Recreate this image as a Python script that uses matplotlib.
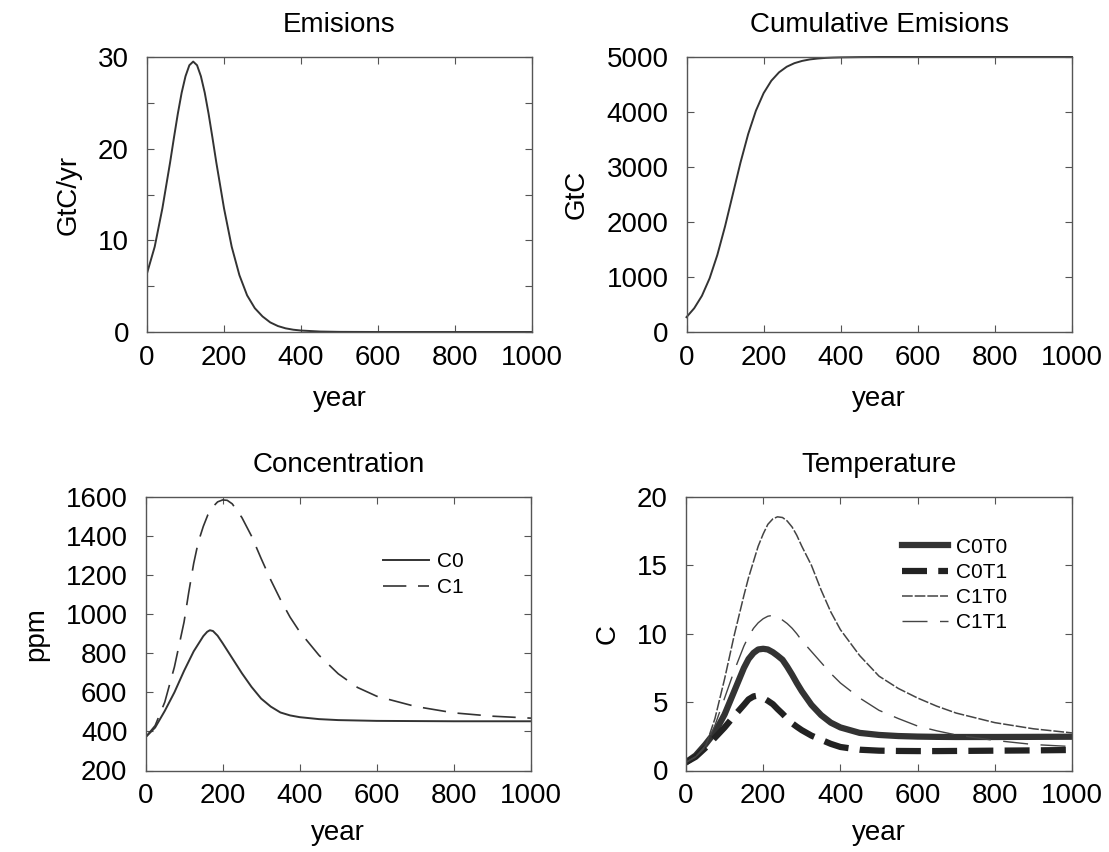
import matplotlib
matplotlib.use('Agg')
import matplotlib.pyplot as plt

plt.rcParams['font.family'] = ['Liberation Sans', 'DejaVu Sans']

# Emissions (GtC/yr) and cumulative emissions (GtC)
em_year = [0, 20, 40, 60, 70, 80, 90, 100, 110, 120, 130, 140, 150, 160, 170, 180,
           200, 220, 240, 260, 280, 300, 320, 340, 360, 380, 400, 450, 500, 600, 800, 1000]
emis = [6.4, 9.3, 13.5, 18.5, 21.2, 23.8, 26.1, 27.9, 29.1, 29.5, 29.1, 27.9, 26.1, 23.8, 21.2, 18.5,
        13.5, 9.3, 6.2, 4.0, 2.6, 1.7, 1.05, 0.65, 0.4, 0.25, 0.16, 0.05, 0.015, 0, 0, 0]

cum_year = [0, 20, 40, 60, 80, 100, 120, 140, 160, 180, 200, 220, 240, 260, 280, 300,
            320, 340, 360, 380, 400, 450, 500, 1000]
cum = [270, 432, 658, 977, 1401, 1921, 2500, 3079, 3599, 4023, 4342, 4568, 4721, 4823, 4888, 4929,
       4956, 4972, 4983, 4989, 4993, 4998, 5000, 5000]

# Concentration (ppm)
c0_year = [0, 25, 50, 75, 100, 125, 150, 160, 167, 175, 187, 200, 225, 250, 275, 300, 325, 350,
           375, 400, 450, 500, 600, 700, 800, 1000]
c0 = [370, 420, 505, 600, 710, 810, 888, 910, 918, 914, 890, 852, 775, 698, 628, 568, 527, 497,
      482, 473, 463, 458, 454, 453, 452, 452]
c1_year = [0, 25, 50, 75, 100, 112, 125, 137, 150, 162, 175, 187, 200, 212, 225, 250, 275, 300,
           325, 350, 375, 400, 450, 500, 550, 600, 700, 800, 900, 1000]
c1 = [370, 430, 550, 730, 960, 1110, 1260, 1370, 1450, 1510, 1550, 1575, 1585, 1583, 1565, 1495,
      1400, 1285, 1175, 1075, 985, 910, 790, 695, 625, 580, 528, 495, 478, 468]

# Temperature (C)
t_year = [0, 25, 50, 75, 100, 125, 150, 162, 175, 187, 200, 212, 225, 237, 250, 262, 275, 287,
          300, 325, 350, 375, 400, 450, 500, 550, 600, 650, 700, 800, 900, 1000]
c0t0 = [0.6, 1.1, 1.9, 2.8, 4.1, 5.8, 7.5, 8.15, 8.6, 8.85, 8.9, 8.85, 8.65, 8.4, 8.1, 7.6, 7.0, 6.4,
        5.8, 4.8, 4.05, 3.5, 3.15, 2.75, 2.6, 2.52, 2.48, 2.46, 2.45, 2.45, 2.46, 2.47]
c0t1 = [0.6, 1.0, 1.65, 2.4, 3.15, 4.0, 4.8, 5.2, 5.42, 5.48, 5.3, 5.1, 4.85, 4.5, 4.15, 3.8, 3.45, 3.2,
        2.95, 2.55, 2.25, 1.95, 1.72, 1.52, 1.45, 1.43, 1.42, 1.42, 1.43, 1.45, 1.47, 1.5]
c1t0 = [0.6, 1.0, 1.7, 3.8, 6.7, 9.9, 12.8, 14.1, 15.3, 16.4, 17.3, 18.0, 18.4, 18.55, 18.5, 18.25,
        17.8, 17.2, 16.4, 15.0, 13.2, 11.6, 10.3, 8.4, 6.9, 6.0, 5.3, 4.7, 4.2, 3.5, 3.05, 2.75]
c1t1 = [0.6, 1.0, 1.8, 3.3, 5.3, 7.3, 9.1, 9.8, 10.4, 10.8, 11.1, 11.28, 11.35, 11.3, 11.0, 10.75,
        10.4, 10.0, 9.5, 8.7, 7.9, 7.1, 6.4, 5.3, 4.4, 3.8, 3.25, 2.9, 2.6, 2.2, 1.9, 1.75]

LC = '#333333'
FS_TICK = 20
FS_LAB = 20
FS_TITLE = 20
FS_LEG = 15

fig = plt.figure(figsize=(11.09, 8.52), dpi=100)
W, H = 1109.0, 852.0

def make_ax(x0, x1, ytop, ybot):
    return fig.add_axes([x0 / W, 1 - ybot / H, (x1 - x0) / W, (ybot - ytop) / H])

ax1 = make_ax(147, 532, 57, 332)
ax2 = make_ax(686.5, 1072, 57, 332)
ax3 = make_ax(145.5, 531, 497, 770.5)
ax4 = make_ax(686, 1072, 497, 770.5)

for ax in (ax1, ax2, ax3, ax4):
    ax.set_xlim(0, 1000)
    ax.set_xticks([0, 200, 400, 600, 800, 1000])
    ax.tick_params(which='both', direction='in', top=True, right=True, length=5, width=0.8,
                   color='#555555', labelsize=FS_TICK)
    ax.tick_params(axis='x', pad=9)
    ax.tick_params(axis='y', pad=13)
    for s in ax.spines.values():
        s.set_color('#555555')
        s.set_linewidth(1.0)

for ax in (ax1, ax2):
    ax.set_xlabel('year', fontsize=FS_LAB, labelpad=11)
for ax in (ax3, ax4):
    ax.set_xlabel('year', fontsize=FS_LAB, labelpad=8)

# Emissions
ax1.plot(em_year, emis, color=LC, lw=1.4)
ax1.set_ylim(0, 30)
ax1.set_yticks([0, 10, 20, 30])
ax1.set_yticks([5, 15, 25], minor=True)
ax1.set_title('Emisions', fontsize=FS_TITLE, pad=18)
ax1.set_ylabel('GtC/yr', fontsize=FS_LAB, labelpad=12)

# Cumulative emissions
ax2.plot(cum_year, cum, color=LC, lw=1.4, clip_on=False)
ax2.set_ylim(0, 5000)
ax2.set_yticks([0, 1000, 2000, 3000, 4000, 5000])
ax2.set_title('Cumulative Emisions', fontsize=FS_TITLE, pad=18)
ax2.set_ylabel('GtC', fontsize=FS_LAB, labelpad=12)

# Concentration
ax3.plot(c0_year, c0, color=LC, lw=1.4, label='C0')
ax3.plot(c1_year, c1, color=LC, lw=1.2, dashes=(14, 7), label='C1')
ax3.set_ylim(200, 1600)
ax3.set_yticks(range(200, 1601, 200))
ax3.set_title('Concentration', fontsize=FS_TITLE, pad=18)
ax3.set_ylabel('ppm', fontsize=FS_LAB, labelpad=12)
ax3.legend(loc='center left', bbox_to_anchor=(383 / W, 1 - 574.5 / H),
           bbox_transform=fig.transFigure, frameon=False, fontsize=FS_LEG,
           handlelength=2.2, handletextpad=0.4, labelspacing=0.35,
           borderpad=0, borderaxespad=0)

# Temperature
ax4.plot(t_year, c0t0, color=LC, lw=4.5, label='C0T0')
ax4.plot(t_year, c0t1, color='#222222', lw=4.5, dashes=(4, 1.8), label='C0T1')
ax4.plot(t_year, c1t0, color='#444444', lw=1.1, dashes=(7, 1.3), label='C1T0')
ax4.plot(t_year, c1t1, color='#444444', lw=1.0, dashes=(18, 9), label='C1T1')
ax4.set_ylim(0, 20)
ax4.set_yticks([0, 5, 10, 15, 20])
ax4.set_title('Temperature', fontsize=FS_TITLE, pad=18)
ax4.set_ylabel('C', fontsize=FS_LAB, labelpad=12)
ax4.legend(loc='center left', bbox_to_anchor=(902 / W, 1 - 585 / H),
           bbox_transform=fig.transFigure, frameon=False, fontsize=FS_LEG,
           handlelength=2.2, handletextpad=0.4, labelspacing=0.3,
           borderpad=0, borderaxespad=0)

plt.savefig('out.png', dpi=100)
